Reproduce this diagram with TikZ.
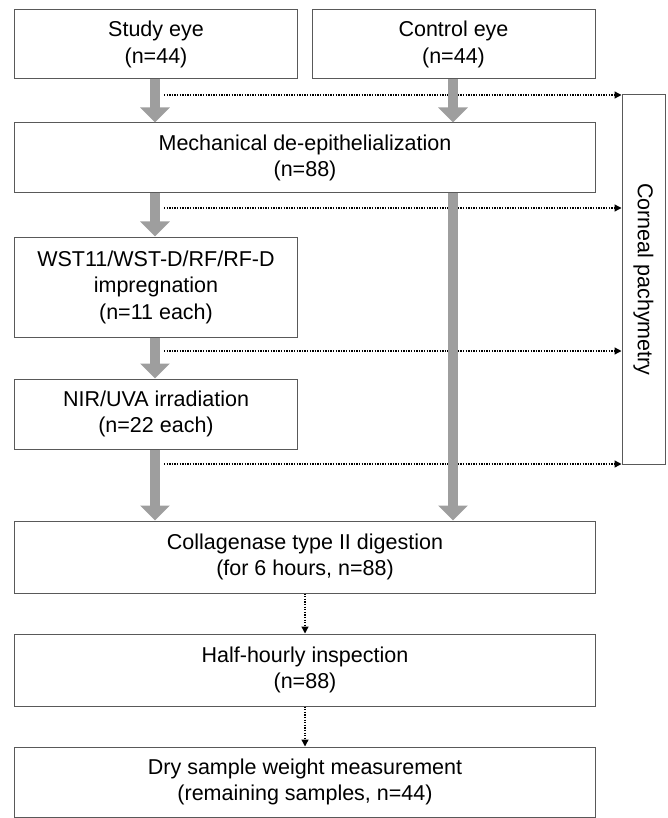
\documentclass[tikz,border=0pt]{standalone}
\usepackage{fontspec}
\setmainfont{Liberation Sans}
\usetikzlibrary{arrows.meta,calc}
\begin{document}
\begin{tikzpicture}[x=1pt,y=-1pt,
  box/.style={draw=black!65,line width=1pt,rectangle,inner sep=0pt,align=center,
    font=\fontsize{21.5}{26.5}\selectfont},
  fat/.style={draw=black!38,line width=10.5pt,-{Triangle[width=29pt 0 0,length=15pt 0 0]}},
  dots/.style={line width=1.3pt,dash pattern=on 1.3pt off 1.3pt,-{Triangle[width=7pt 0 0,length=7pt 0 0]}}]
\useasboundingbox (0,0) rectangle (667,818);
\node[box,minimum width=283pt,minimum height=69pt] (study) at (156,44.5) {Study eye\\(n=44)};
\node[box,minimum width=283pt,minimum height=69pt] (control) at (453.5,44.5) {Control eye\\(n=44)};
\node[box,minimum width=581pt,minimum height=70pt] (mech) at (305,158) {Mechanical de-epithelialization\\(n=88)};
\node[box,minimum width=283pt,minimum height=100pt] (wst) at (156,287) {WST11/WST-D/RF/RF-D\\impregnation\\(n=11 each)};
\node[box,minimum width=283pt,minimum height=70pt] (nir) at (156,414) {NIR/UVA irradiation\\(n=22 each)};
\node[box,minimum width=581pt,minimum height=72pt] (coll) at (305,557) {Collagenase type II digestion\\(for 6 hours, n=88)};
\node[box,minimum width=581pt,minimum height=72pt] (half) at (305,670) {Half-hourly inspection\\(n=88)};
\node[box,minimum width=581pt,minimum height=70pt] (dry) at (305,782) {Dry sample weight measurement\\(remaining samples, n=44)};
\node[box,minimum width=43pt,minimum height=369pt] (corn) at (643.5,279.5) {};
\node[font=\fontsize{21.5}{24}\selectfont,rotate=-90] (corntext) at (corn.center) {Corneal pachymetry};
% dotted arrows to corneal pachymetry
\coordinate (d1) at (164,95);
\coordinate (d2) at (164,208);
\coordinate (d3) at (164,351);
\coordinate (d4) at (164,464);
\draw[dots] (d1) -- (corn.west |- d1);
\draw[dots] (d2) -- (corn.west |- d2);
\draw[dots] (d3) -- (corn.west |- d3);
\draw[dots] (d4) -- (corn.west |- d4);
% fat gray arrows
\draw[fat] (study.south -| 155,0) -- (mech.north -| 155,0);
\draw[fat] (control.south -| 453,0) -- (mech.north -| 453,0);
\draw[fat] (mech.south -| 155,0) -- (wst.north -| 155,0);
\draw[fat] (wst.south -| 155,0) -- (nir.north -| 155,0);
\draw[fat] (nir.south -| 155,0) -- (coll.north -| 155,0);
\draw[fat] (mech.south -| 453,0) -- (coll.north -| 453,0);
% dotted vertical arrows
\draw[dots] (coll.south) -- (half.north);
\draw[dots] (half.south) -- (dry.north);
\end{tikzpicture}
\end{document}
